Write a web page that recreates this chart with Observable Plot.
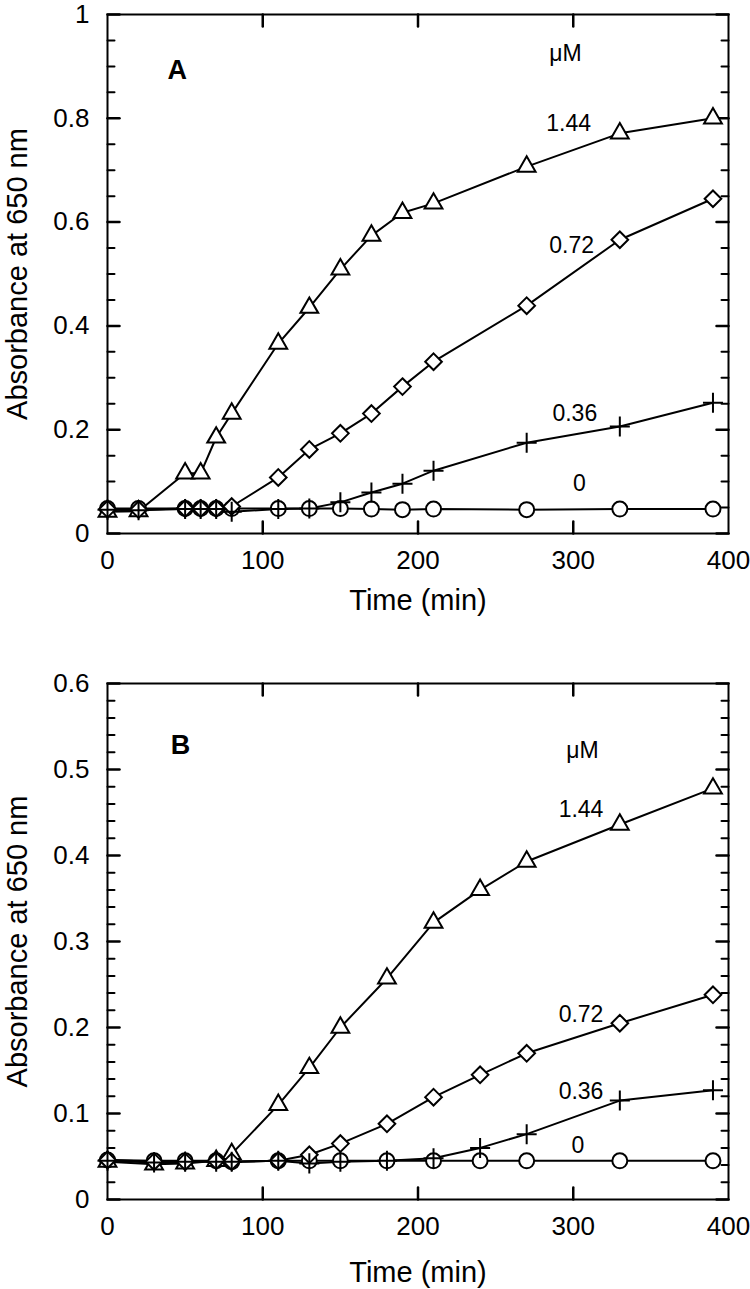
<!DOCTYPE html>
<html>
<head>
<meta charset="utf-8">
<script src="https://cdn.jsdelivr.net/npm/d3@7"></script>
<script src="https://cdn.jsdelivr.net/npm/@observablehq/plot@0.6"></script>
<style>
  html, body { margin: 0; padding: 0; background: #fff; }
  #chart svg { display: block; }
</style>
</head>
<body>
<div id="chart"></div>
<script>
// ---------- Data ----------
const seriesNames = ["1.44", "0.72", "0.36", "0"];

// Panel A
const timesA = [0, 20, 50, 60, 70, 80, 110, 130, 150, 170, 190, 210, 270, 330, 390];
const a144 = [0.042, 0.043, 0.116, 0.116, 0.185, 0.231, 0.366, 0.435, 0.509, 0.574, 0.618, 0.636, 0.707, 0.771, 0.800];
const a072 = [0.047, 0.046, 0.048, 0.048, 0.048, 0.052, 0.108, 0.162, 0.193, 0.231, 0.283, 0.331, 0.439, 0.566, 0.645];
const a036 = [0.046, 0.045, 0.047, 0.047, 0.047, 0.042, 0.047, 0.048, 0.060, 0.079, 0.096, 0.121, 0.175, 0.206, 0.252];
const a0   = [0.048, 0.048, 0.048, 0.048, 0.048, 0.048, 0.048, 0.048, 0.048, 0.047, 0.046, 0.047, 0.046, 0.047, 0.047];

// Panel B
const timesB = [0, 30, 50, 70, 80, 110, 130, 150, 180, 210, 240, 270, 330, 390];
const b144 = [0.044, 0.041, 0.042, 0.045, 0.053, 0.110, 0.153, 0.200, 0.257, 0.322, 0.360, 0.393, 0.436, 0.478];
const b072 = [0.046, 0.044, 0.044, 0.045, 0.044, 0.045, 0.052, 0.065, 0.088, 0.119, 0.145, 0.170, 0.205, 0.238];
const b036 = [0.045, 0.043, 0.044, 0.044, 0.044, 0.045, 0.042, 0.044, 0.045, 0.048, 0.060, 0.076, 0.115, 0.127];
const b0   = [0.046, 0.045, 0.045, 0.045, 0.044, 0.045, 0.045, 0.045, 0.045, 0.045, 0.045, 0.045, 0.045, 0.045];

// Tick values
const xTicks = [0, 100, 200, 300, 400];
const xInnerTicks = [100, 200, 300];
const yMajorA = [0, 0.2, 0.4, 0.6, 0.8, 1];
const yMajorB = [0, 0.1, 0.2, 0.3, 0.4, 0.5, 0.6];
const yMinorA = [0.05, 0.1, 0.15, 0.25, 0.3, 0.35, 0.45, 0.5, 0.55, 0.65, 0.7, 0.75, 0.85, 0.9, 0.95];
const yMinorB = [0.02, 0.04, 0.06, 0.08, 0.12, 0.14, 0.16, 0.18, 0.22, 0.24, 0.26, 0.28,
                 0.32, 0.34, 0.36, 0.38, 0.42, 0.44, 0.46, 0.48, 0.52, 0.54, 0.56, 0.58];

// In-plot labels (data coordinates)
const labelTextA = ["μM", "1.44", "0.72", "0.36", "0"];
const labelTA = [295, 297, 299, 301, 304];
const labelVA = [0.925, 0.790, 0.555, 0.231, 0.096];
const labelTextB = ["μM", "1.44", "0.72", "0.36", "0"];
const labelTB = [306, 305, 305, 305, 303];
const labelVB = [0.522, 0.453, 0.215, 0.126, 0.063];

const FONT = "'Liberation Sans', Arial, Helvetica, sans-serif";
const W = 750, ML = 107, MR = 22;

function tidy(times, arrays) {
  const rows = [];
  arrays.forEach((arr, k) => arr.forEach((v, i) => rows.push({t: times[i], v, s: seriesNames[k]})));
  return rows;
}

// tick segments as tidy rows (value, position along axis in data units, group id)
function tickSegments(vals, from, to, key) {
  const out = [];
  vals.forEach((v, i) => { out.push({v, p: from, g: key + i}); out.push({v, p: to, g: key + i}); });
  return out;
}

function panel({times, arrays, yMax, yMajor, yMinor, labTxt, labT, labV, letter, letterT, letterV, height, marginTop, marginBottom, titleDy}) {
  const rows = tidy(times, arrays);
  const labels = labTxt.map((s, i) => ({s, t: labT[i], v: labV[i]}));
  const sym = {"1.44": "triangle2", "0.72": "diamond2", "0.36": "plus", "0": "circle"};
  const rad = {"1.44": 8.5, "0.72": 7.5, "0.36": 6.5, "0": 7.5};
  const dotMark = (s) => Plot.dot(rows.filter(d => d.s === s), {
    x: "t", y: "v", symbol: sym[s], r: rad[s],
    stroke: "black", strokeWidth: 2, fill: s === "0.36" ? "none" : "white"
  });
  // inward tick length converted to data units from the scale span
  const pw = W - ML - MR, ph = height - marginTop - marginBottom;
  const ux = (px) => px * 400 / pw;
  const uy = (px) => px * yMax / ph;
  const yMinorSeg = [
    ...tickSegments(yMinor, 0, ux(7), "mL"),
    ...tickSegments(yMinor, 400, 400 - ux(7), "mR")
  ];
  const yMajorSeg = [
    ...tickSegments(yMajor, 0, ux(12), "ML"),
    ...tickSegments(yMajor, 400, 400 - ux(12), "MR")
  ];
  const xSeg = [
    ...tickSegments(xInnerTicks, 0, uy(12), "xB"),
    ...tickSegments(xInnerTicks, yMax, yMax - uy(12), "xT")
  ];
  return Plot.plot({
    width: W, height, marginLeft: ML, marginRight: MR, marginTop, marginBottom,
    style: {fontFamily: FONT, fontSize: "26px", background: "white", color: "black", overflow: "visible"},
    x: {domain: [0, 400]},
    y: {domain: [0, yMax]},
    marks: [
      Plot.axisY(yMajor, {anchor: "left", tickSize: 0, tickPadding: 18, tickFormat: d => String(d), fontSize: 26, fontFamily: FONT, label: null}),
      Plot.axisX(xTicks, {anchor: "bottom", tickSize: 0, tickPadding: 17, tickFormat: d => String(d), fontSize: 26, fontFamily: FONT, label: null}),
      Plot.frame({stroke: "black", strokeWidth: 2}),
      Plot.line(yMinorSeg, {x: "p", y: "v", z: "g", stroke: "black", strokeWidth: 2}),
      Plot.line(yMajorSeg, {x: "p", y: "v", z: "g", stroke: "black", strokeWidth: 2.5}),
      Plot.line(xSeg, {x: "v", y: "p", z: "g", stroke: "black", strokeWidth: 2.5}),
      Plot.line(rows, {x: "t", y: "v", z: "s", stroke: "black", strokeWidth: 2}),
      dotMark("0"),
      dotMark("1.44"),
      dotMark("0.72"),
      dotMark("0.36"),
      Plot.text(labels, {x: "t", y: "v", text: "s", fontSize: 23, fontFamily: FONT, fill: "black"}),
      Plot.text([letter], {x: letterT, y: letterV, fontSize: 27, fontWeight: "bold", fontFamily: FONT, fill: "black"}),
      Plot.text(["Absorbance at 650 nm"], {frameAnchor: "left", rotate: -90, dx: -90, textAnchor: "middle", lineAnchor: "middle", fontSize: 29, fontFamily: FONT, fill: "black"}),
      Plot.text(["Time (min)"], {frameAnchor: "bottom", dy: titleDy, textAnchor: "middle", lineAnchor: "middle", fontSize: 29, fontFamily: FONT, fill: "black"})
    ]
  });
}

const chart = document.getElementById("chart");
chart.append(panel({
  times: timesA, arrays: [a144, a072, a036, a0], yMax: 1, yMajor: yMajorA, yMinor: yMinorA,
  labTxt: labelTextA, labT: labelTA, labV: labelVA,
  letter: "A", letterT: 45, letterV: 0.892,
  height: 640, marginTop: 14, marginBottom: 107, titleDy: 67
}));
chart.append(panel({
  times: timesB, arrays: [b144, b072, b036, b0], yMax: 0.6, yMajor: yMajorB, yMinor: yMinorB,
  labTxt: labelTextB, labT: labelTB, labV: labelVB,
  letter: "B", letterT: 47, letterV: 0.528,
  height: 649, marginTop: 43, marginBottom: 90, titleDy: 73
}));
</script>
</body>
</html>
